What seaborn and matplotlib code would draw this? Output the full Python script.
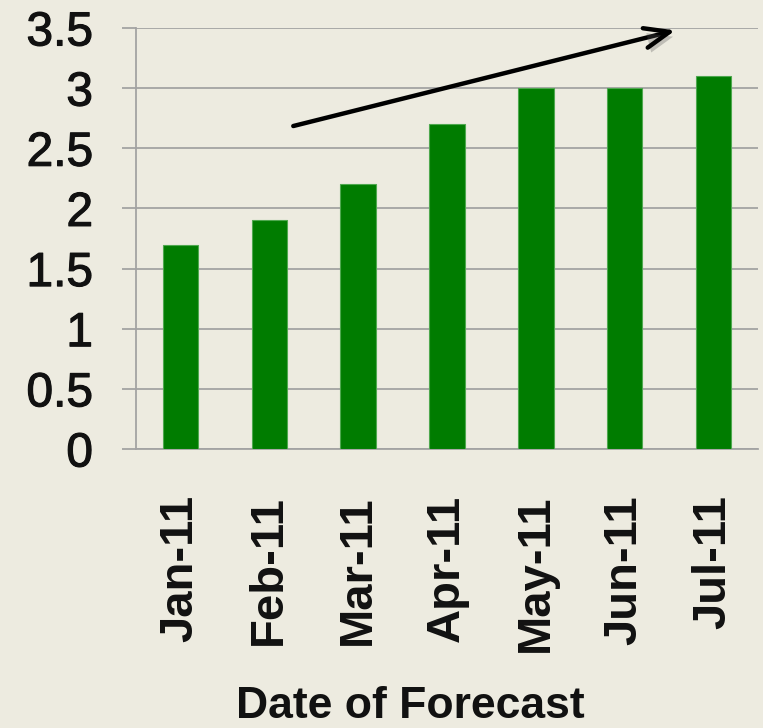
import matplotlib
matplotlib.use("Agg")
import matplotlib.pyplot as plt
import matplotlib.patheffects as pe
import seaborn as sns
import pandas as pd

months = ["Jan-11", "Feb-11", "Mar-11", "Apr-11", "May-11", "Jun-11", "Jul-11"]
forecast = [1.7, 1.9, 2.2, 2.7, 3.0, 3.0, 3.1]
y_ticks = [0, 0.5, 1, 1.5, 2, 2.5, 3, 3.5]
y_tick_labels = ["0", "0.5", "1", "1.5", "2", "2.5", "3", "3.5"]

bg = "#EDEBE0"
bar_color = "#007C00"
grid_color = "#A3A3A3"
text_color = "#111111"

sns.set_theme(style="white")
plt.rcParams["font.family"] = ["Liberation Sans", "DejaVu Sans"]

df = pd.DataFrame({"month": months, "value": forecast})

fig = plt.figure(figsize=(7.63, 7.28), dpi=100, facecolor=bg)
ax = fig.add_axes([136 / 763, 1 - 449 / 728, (758 - 136) / 763, (449 - 28) / 728])
ax.set_facecolor(bg)

sns.barplot(data=df, x="month", y="value", color=bar_color, saturation=1,
            width=0.4, edgecolor="#4FA84F", linewidth=0.8, ax=ax, zorder=3)

ax.set_ylim(0, 3.5)
ax.set_xlim(-0.5, len(months) - 0.5)
ax.set_yticks(y_ticks)
ax.set_yticklabels(y_tick_labels)
ax.yaxis.grid(True, color=grid_color, linewidth=1.3, zorder=0)
ax.set_axisbelow(True)

for side in ["top", "right"]:
    ax.spines[side].set_visible(False)
ax.spines["left"].set_color(grid_color)
ax.spines["left"].set_linewidth(1.3)
ax.spines["bottom"].set_color(grid_color)
ax.spines["bottom"].set_linewidth(1.3)

ax.tick_params(axis="y", length=10, width=1.3, color=grid_color, pad=21,
               labelsize=34.5, labelcolor=text_color, left=True)
ax.tick_params(axis="x", length=0, pad=33, labelsize=34, labelcolor=text_color,
               labelrotation=90)
for lbl in ax.get_xticklabels():
    lbl.set_fontweight("bold")
for lbl in ax.get_yticklabels():
    lbl.set_path_effects([pe.Stroke(linewidth=0.8, foreground=text_color), pe.Normal()])

ax.set_xlabel("")
ax.set_ylabel("")

# Upward trend arrow
ax.annotate("", xy=(5.57, 3.48), xytext=(1.27, 2.685),
            arrowprops=dict(arrowstyle="->,head_length=1.5,head_width=0.6",
                            color="black", lw=3.2, shrinkA=0, shrinkB=0,
                            path_effects=[pe.SimplePatchShadow(offset=(2.5, -3.5), alpha=0.3,
                                                               shadow_rgbFace="#555555"),
                                          pe.Normal()]),
            annotation_clip=False, zorder=5)

fig.text(410 / 763, 1 - 706 / 728, "Date of Forecast", ha="center", va="center",
         fontsize=32, fontweight="bold", color=text_color)

fig.savefig("out.png", dpi=100, facecolor=bg)
